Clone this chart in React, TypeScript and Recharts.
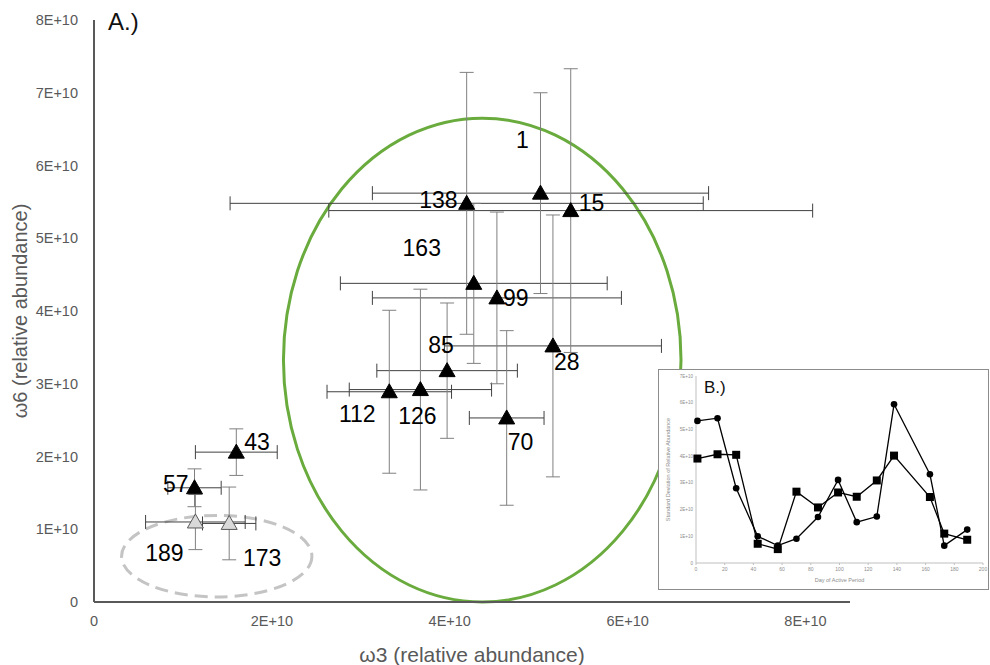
import React from "react"
import {
  ScatterChart,
  Scatter,
  XAxis,
  YAxis,
  ErrorBar,
  ReferenceArea,
  Label,
  LineChart,
  Line,
} from "recharts"

// all values in units of 1E+10 (relative abundance)
const E10 = 1e10
const samples = ["1", "15", "28", "43", "57", "70", "85", "99", "112", "126", "138", "163", "173", "189"]
const omega3 = [5.02, 5.36, 5.16, 1.6, 1.13, 4.64, 3.97, 4.53, 3.32, 3.67, 4.19, 4.27, 1.52, 1.14]
const omega6 = [5.62, 5.38, 3.52, 2.06, 1.57, 2.53, 3.18, 4.18, 2.89, 2.92, 5.48, 4.38, 1.08, 1.1]
const omega3Sd = [1.89, 2.72, 1.22, 0.46, 0.3, 0.42, 0.79, 1.4, 0.7, 0.8, 2.66, 1.5, 0.3, 0.56]
const omega6Sd = [1.38, 1.95, 1.8, 0.32, 0.26, 1.2, 0.93, 1.18, 1.12, 1.38, 1.8, 1.1, 0.5, 0.38]
const outsideSamples = ["173", "189"]

const xTicks = [0, 2, 4, 6, 8]
const xTickLabels = ["0", "2E+10", "4E+10", "6E+10", "8E+10"]
const yTicks = [0, 1, 2, 3, 4, 5, 6, 7, 8]
const yTickLabels = ["0", "1E+10", "2E+10", "3E+10", "4E+10", "5E+10", "6E+10", "7E+10", "8E+10"]

// inset B: standard deviation by day of active period
const insetDays = [1, 15, 28, 43, 57, 70, 85, 99, 112, 126, 138, 163, 173, 189]
const insetCircleSd = [5.32, 5.42, 2.8, 1.0, 0.65, 0.91, 1.72, 3.11, 1.53, 1.74, 5.94, 3.32, 0.65, 1.25]
const insetSquareSd = [3.91, 4.07, 4.05, 0.72, 0.52, 2.67, 2.08, 2.64, 2.48, 3.09, 4.02, 2.47, 1.1, 0.87]
const insetXTicks = [0, 20, 40, 60, 80, 100, 120, 140, 160, 180, 200]
const insetYTicks = [0, 1, 2, 3, 4, 5, 6, 7]
const insetYTickLabels = ["0", "1E+10", "2E+10", "3E+10", "4E+10", "5E+10", "6E+10", "7E+10"]

const points = samples.map((s, i) => ({
  sample: s,
  x: omega3[i] * E10,
  y: omega6[i] * E10,
  xErr: omega3Sd[i] * E10,
  yErr: omega6Sd[i] * E10,
}))
const activePoints = points.filter((p) => !outsideSamples.includes(p.sample))
const outsidePoints = points.filter((p) => outsideSamples.includes(p.sample))

const insetData = insetDays.map((d, i) => ({
  day: d,
  circ: insetCircleSd[i] * E10,
  sq: insetSquareSd[i] * E10,
}))

// where each point's number sits relative to its marker
const labelPlace: Record<string, { dx: number; dy: number; anchor: "start" | "middle" | "end" }> = {
  "1": { dx: -18, dy: -53, anchor: "middle" },
  "138": { dx: -9, dy: -3, anchor: "end" },
  "15": { dx: 8, dy: -8, anchor: "start" },
  "163": { dx: -52, dy: -35, anchor: "middle" },
  "99": { dx: 6, dy: 0, anchor: "start" },
  "28": { dx: 1, dy: 16, anchor: "start" },
  "85": { dx: -6, dy: -26, anchor: "middle" },
  "112": { dx: -32, dy: 22, anchor: "middle" },
  "126": { dx: -3, dy: 26, anchor: "middle" },
  "70": { dx: 1, dy: 24, anchor: "start" },
  "43": { dx: 8, dy: -10, anchor: "start" },
  "57": { dx: -6, dy: -4, anchor: "end" },
  "189": { dx: -31, dy: 31, anchor: "middle" },
  "173": { dx: 33, dy: 35, anchor: "middle" },
}

const FONT = "'Liberation Sans', Arial, sans-serif"

const makeTriangle = (fill: string, stroke: string) => (props: any) => {
  const { cx, cy, payload } = props
  const lp = labelPlace[payload.sample]
  return (
    <g>
      <polygon
        points={`${cx},${cy - 8} ${cx + 8},${cy + 6} ${cx - 8},${cy + 6}`}
        fill={fill}
        stroke={stroke}
        strokeWidth={1}
      />
      <text
        x={cx + lp.dx}
        y={cy + lp.dy}
        textAnchor={lp.anchor}
        dominantBaseline="central"
        fontSize={23}
        fontFamily={FONT}
        fill="#000"
      >
        {payload.sample}
      </text>
    </g>
  )
}

const ellipseShape = (stroke: string, dash?: string) => (props: any) => {
  const { x, y, width, height } = props
  return (
    <ellipse
      cx={x + width / 2}
      cy={y + height / 2}
      rx={width / 2}
      ry={height / 2}
      fill="none"
      stroke={stroke}
      strokeWidth={3}
      strokeDasharray={dash}
    />
  )
}

const CircleDot = (props: any) => {
  const { cx, cy } = props
  return <circle cx={cx} cy={cy} r={3.3} fill="#000" />
}
const SquareDot = (props: any) => {
  const { cx, cy } = props
  return <rect x={cx - 4} y={cy - 4} width={8} height={8} fill="#000" />
}

function Inset() {
  return (
    <div
      style={{
        position: "absolute",
        left: 658,
        top: 369,
        width: 331,
        height: 221,
        border: "1px solid #8c8c8c",
        boxSizing: "border-box",
        background: "#fff",
      }}
    >
      <LineChart width={329} height={219} data={insetData} margin={{ top: 6, right: 5, bottom: 0, left: 0 }}>
        <XAxis
          type="number"
          dataKey="day"
          domain={[0, 200]}
          ticks={insetXTicks}
          interval={0}
          height={26}
          tickSize={2}
          tickMargin={2}
          stroke="#bfbfbf"
          tick={{ fontSize: 5, fill: "#8c8c8c", fontFamily: FONT }}
        >
          <Label value="Day of Active Period" position="insideBottom" offset={7} fontSize={5.5} fill="#8c8c8c" fontFamily={FONT} />
        </XAxis>
        <YAxis
          type="number"
          domain={[0, 7 * E10]}
          ticks={insetYTicks.map((t) => t * E10)}
          interval={0}
          width={37}
          tickSize={0}
          tickMargin={3}
          stroke="#bfbfbf"
          tick={{ fontSize: 4.5, fill: "#8c8c8c", fontFamily: FONT }}
          tickFormatter={(v: number) => insetYTickLabels[insetYTicks.indexOf(Math.round(v / E10))]}
        >
          <Label
            value="Standard Deviation of Relative Abundance"
            position="insideLeft"
            angle={-90}
            offset={9}
            fontSize={5.5}
            fill="#8c8c8c"
            fontFamily={FONT}
            style={{ textAnchor: "middle" }}
          />
        </YAxis>
        <Line dataKey="circ" stroke="#000" strokeWidth={1.3} dot={<CircleDot />} isAnimationActive={false} />
        <Line dataKey="sq" stroke="#000" strokeWidth={1.3} dot={<SquareDot />} isAnimationActive={false} />
      </LineChart>
      <div
        style={{
          position: "absolute",
          left: 45,
          top: 9,
          fontSize: 17,
          lineHeight: "17px",
          fontFamily: FONT,
          color: "#111",
        }}
      >
        B.)
      </div>
    </div>
  )
}

export default function App() {
  return (
    <div style={{ position: "absolute", left: 0, top: 0, width: 990, height: 665, background: "#fff" }}>
      <ScatterChart width={990} height={665} margin={{ top: 20, right: 140, bottom: 0, left: 0 }}>
        <XAxis
          type="number"
          dataKey="x"
          domain={[0, 8.5 * E10]}
          ticks={xTicks.map((t) => t * E10)}
          interval={0}
          height={63}
          tickSize={0}
          tickMargin={14}
          axisLine={{ stroke: "#595959", strokeWidth: 2 }}
          tick={{ fontSize: 14.5, fill: "#595959", fontFamily: FONT }}
          tickFormatter={(v: number) => xTickLabels[xTicks.indexOf(Math.round(v / E10))]}
        >
          <Label value="ω3 (relative abundance)" position="insideBottom" offset={3} fontSize={21} fill="#595959" fontFamily={FONT} />
        </XAxis>
        <YAxis
          type="number"
          dataKey="y"
          domain={[0, 8 * E10]}
          ticks={yTicks.map((t) => t * E10)}
          interval={0}
          width={94}
          tickSize={0}
          tickMargin={16}
          axisLine={{ stroke: "#595959", strokeWidth: 2 }}
          tick={{ fontSize: 14.5, fill: "#595959", fontFamily: FONT }}
          tickFormatter={(v: number) => yTickLabels[yTicks.indexOf(Math.round(v / E10))]}
        >
          <Label
            value="ω6 (relative abundance)"
            position="insideLeft"
            angle={-90}
            offset={20}
            fontSize={20}
            fill="#595959"
            fontFamily={FONT}
            style={{ textAnchor: "middle" }}
          />
        </YAxis>
        <ReferenceArea
          x1={2.13 * E10}
          x2={6.6 * E10}
          y1={0}
          y2={6.65 * E10}
          ifOverflow="visible"
          shape={ellipseShape("#6aab3e")}
        />
        <ReferenceArea
          x1={0.31 * E10}
          x2={2.45 * E10}
          y1={0.07 * E10}
          y2={1.19 * E10}
          ifOverflow="visible"
          shape={ellipseShape("#c4c4c4", "13 7")}
        />
        <Scatter data={activePoints} shape={makeTriangle("#000", "#000")} isAnimationActive={false}>
          <ErrorBar dataKey="xErr" direction="x" width={7} stroke="#404040" strokeWidth={1} />
          <ErrorBar dataKey="yErr" direction="y" width={7} stroke="#808080" strokeWidth={1} />
        </Scatter>
        <Scatter data={outsidePoints} shape={makeTriangle("#d9d9d9", "#595959")} isAnimationActive={false}>
          <ErrorBar dataKey="xErr" direction="x" width={7} stroke="#404040" strokeWidth={1} />
          <ErrorBar dataKey="yErr" direction="y" width={7} stroke="#808080" strokeWidth={1} />
        </Scatter>
      </ScatterChart>
      <div
        style={{
          position: "absolute",
          left: 108,
          top: 10,
          fontSize: 24,
          lineHeight: "24px",
          fontFamily: FONT,
          color: "#111",
        }}
      >
        A.)
      </div>
      <Inset />
    </div>
  )
}
